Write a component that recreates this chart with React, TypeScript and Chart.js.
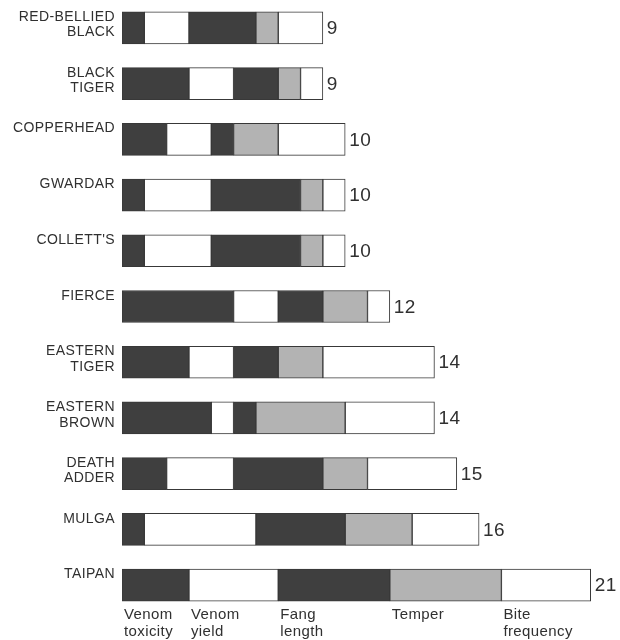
import React, { useEffect, useRef } from "react";
import { Chart, registerables } from "chart.js";

Chart.register(...registerables);

// Snake names (y categories), multi-line as printed
const snakes: string[][] = [
  ["RED-BELLIED", "BLACK"],
  ["BLACK", "TIGER"],
  ["COPPERHEAD", ""],
  ["GWARDAR", ""],
  ["COLLETT'S", ""],
  ["FIERCE", ""],
  ["EASTERN", "TIGER"],
  ["EASTERN", "BROWN"],
  ["DEATH", "ADDER"],
  ["MULGA", ""],
  ["TAIPAN", ""],
];

// Component names (series) and their axis labels
const components: string[] = ["Venom toxicity", "Venom yield", "Fang length", "Temper", "Bite frequency"];
const componentTickLabels: string[][] = [
  ["Venom", "toxicity"],
  ["Venom", "yield"],
  ["Fang", "length"],
  ["Temper"],
  ["Bite", "frequency"],
];

// Series values
const venomToxicity: number[] = [1, 3, 2, 1, 1, 5, 3, 4, 2, 1, 3];
const venomYield: number[] = [2, 2, 2, 3, 3, 2, 2, 1, 3, 5, 4];
const fangLength: number[] = [3, 2, 1, 4, 4, 2, 2, 1, 4, 4, 5];
const temper: number[] = [1, 1, 2, 1, 1, 2, 2, 4, 2, 3, 5];
const biteFrequency: number[] = [2, 1, 3, 1, 1, 1, 5, 4, 4, 3, 4];

const DARK = "#3f3f3f";
const GRAY = "#b3b3b3";
const WHITE = "#ffffff";
const EDGE = "#383838";
const TEXT = "#303030";
const FONT = '"Liberation Sans", Arial, Helvetica, sans-serif';

export default function App() {
  const ref = useRef<HTMLCanvasElement | null>(null);

  useEffect(() => {
    if (!ref.current) return;
    const series = [venomToxicity, venomYield, fangLength, temper, biteFrequency];
    const fills = [DARK, WHITE, DARK, GRAY, WHITE];
    const totals = snakes.map((_, i) => series.reduce((s, arr) => s + arr[i], 0));

    // axis label positions follow the segment starts of the last (longest) bar
    const last = snakes.length - 1;
    const tickValues: number[] = [];
    let acc = 0;
    series.forEach((arr) => {
      tickValues.push(acc);
      acc += arr[last];
    });

    const spacingPlugin = {
      id: "spacing",
      afterLayout(chart: any) {
        // let the x-axis label box start just under the last bar
        const xs = chart.scales.x;
        xs.top = xs.top - 10;
      },
      beforeDraw(chart: any) {
        (chart.ctx as any).letterSpacing = "0.4px";
      },
      afterDraw(chart: any) {
        (chart.ctx as any).letterSpacing = "0px";
      },
    };

    const totalsPlugin = {
      id: "totals",
      afterDatasetsDraw(chart: any) {
        const { ctx } = chart;
        const xs = chart.scales.x;
        const ys = chart.scales.y;
        ctx.save();
        ctx.font = `19px ${FONT}`;
        ctx.fillStyle = TEXT;
        ctx.textAlign = "left";
        ctx.textBaseline = "middle";
        totals.forEach((t, i) => {
          ctx.fillText(String(t), xs.getPixelForValue(t) + 4, ys.getPixelForValue(i) + 1);
        });
        ctx.restore();
      },
    };

    const chart = new Chart(ref.current, {
      type: "bar",
      data: {
        labels: snakes,
        datasets: series.map((arr, k) => ({
          label: components[k],
          data: arr,
          backgroundColor: fills[k],
          borderColor: EDGE,
          borderWidth: 1,
          borderSkipped: false,
          barThickness: 32,
        })),
      },
      options: {
        indexAxis: "y",
        animation: false,
        responsive: true,
        maintainAspectRatio: false,
        layout: { padding: { left: 0, right: 7, top: 0, bottom: 0 } },
        plugins: {
          legend: { display: false },
          tooltip: { enabled: false },
          title: { display: false },
        },
        scales: {
          x: {
            type: "linear",
            stacked: true,
            min: 0,
            max: 22,
            grid: { display: false, drawTicks: false },
            border: { display: false },
            afterBuildTicks: (scale: any) => {
              scale.ticks = tickValues.map((v) => ({ value: v }));
            },
            afterFit: (scale: any) => {
              scale.height = 27;
              scale.paddingLeft = 0;
              scale.paddingRight = 0;
            },
            ticks: {
              autoSkip: false,
              maxRotation: 0,
              minRotation: 0,
              align: "start",
              padding: 3,
              labelOffset: 2,
              color: TEXT,
              font: { family: FONT, size: 15, lineHeight: 17 / 15 },
              callback: (value: any) => {
                const idx = tickValues.indexOf(Number(value));
                return idx >= 0 ? componentTickLabels[idx] : "";
              },
            },
          },
          y: {
            type: "category",
            stacked: true,
            grid: { display: false, drawTicks: false },
            border: { display: false },
            afterFit: (scale: any) => {
              scale.width = 122;
              scale.paddingTop = 0;
              scale.paddingBottom = 0;
            },
            ticks: {
              autoSkip: false,
              padding: 7,
              labelOffset: -3,
              color: TEXT,
              font: { family: FONT, size: 14, lineHeight: 15.5 / 14 },
            },
          },
        },
      },
      plugins: [spacingPlugin, totalsPlugin],
    } as any);

    return () => chart.destroy();
  }, []);

  return (
    <div
      style={{
        position: "absolute",
        left: 0,
        top: 0,
        width: 620,
        height: 640,
        background: "#ffffff",
      }}
    >
      <canvas ref={ref} />
    </div>
  );
}
